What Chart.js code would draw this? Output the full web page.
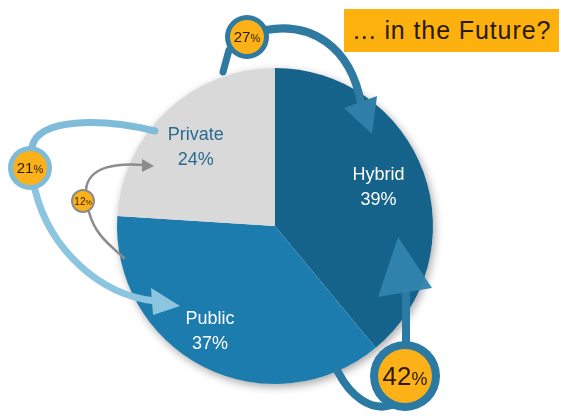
<!DOCTYPE html>
<html>
<head>
<meta charset="utf-8">
<script src="https://cdn.jsdelivr.net/npm/chart.js@4.4.0/dist/chart.umd.min.js"></script>
<style>
  body { margin: 0; background: #fff; }
  #wrap { position: relative; width: 561px; height: 416px; overflow: hidden; }
  #title {
    position: absolute; left: 344px; top: 9px; width: 215px; height: 43px;
    background: #fdb10f; color: #2a1a00;
    font: 25px "Liberation Sans", Arial, sans-serif; letter-spacing: 0.9px;
    line-height: 43px; padding-left: 9px; box-sizing: border-box; white-space: nowrap;
  }
</style>
</head>
<body>
<div id="wrap">
  <canvas id="pie" width="561" height="416"></canvas>
  <div id="title">... in the Future?</div>
</div>
<script>
// slices, clockwise from 12 o'clock
const labels = ["Hybrid", "Public", "Private"];
const shares = [39, 37, 24];
const sliceColors = ["#15638b", "#1c7cad", "#d9d9d9"];
const labelColors = ["#ffffff", "#ffffff", "#2b6b8d"];
const labelDist = [0.70, 0.78, 0.71]; // fraction of radius
const labelTurn = [-1, 4.8, -1.8];    // degrees off the slice middle

// the shift bubbles round the pie
const shiftValues = [27, 21, 12, 42];

const ORANGE = "#fbb117";

function bubble(ctx, x, y, r, ring, ringColor, value, size) {
  ctx.beginPath();
  ctx.arc(x, y, r, 0, Math.PI * 2);
  ctx.fillStyle = ringColor;
  ctx.fill();
  ctx.beginPath();
  ctx.arc(x, y, r - ring, 0, Math.PI * 2);
  ctx.fillStyle = ORANGE;
  ctx.fill();
  const num = String(value);
  ctx.font = size + "px 'Liberation Sans', Arial, sans-serif";
  const w1 = ctx.measureText(num).width;
  ctx.font = Math.round(size * 0.7) + "px 'Liberation Sans', Arial, sans-serif";
  const w2 = ctx.measureText("%").width;
  const x0 = x - (w1 + w2) / 2;
  ctx.fillStyle = "#2b1a00";
  ctx.textBaseline = "alphabetic";
  ctx.textAlign = "left";
  ctx.font = size + "px 'Liberation Sans', Arial, sans-serif";
  ctx.fillText(num, x0, y + size * 0.36);
  ctx.font = Math.round(size * 0.7) + "px 'Liberation Sans', Arial, sans-serif";
  ctx.fillText("%", x0 + w1, y + size * 0.36);
}

function tri(ctx, color, a, b, c) {
  ctx.beginPath();
  ctx.moveTo(a[0], a[1]);
  ctx.lineTo(b[0], b[1]);
  ctx.lineTo(c[0], c[1]);
  ctx.closePath();
  ctx.fillStyle = color;
  ctx.fill();
}

const pieShadow = {
  id: "pieShadow",
  beforeDatasetsDraw(chart) {
    const arc = chart.getDatasetMeta(0).data[0];
    const ctx = chart.ctx;
    ctx.save();
    ctx.shadowColor = "rgba(0,0,0,0.35)";
    ctx.shadowBlur = 8;
    ctx.shadowOffsetX = 2;
    ctx.shadowOffsetY = 3;
    ctx.beginPath();
    ctx.arc(arc.x, arc.y, arc.outerRadius, 0, Math.PI * 2);
    ctx.fillStyle = "#ffffff";
    ctx.fill();
    ctx.restore();
  }
};

const sliceLabels = {
  id: "sliceLabels",
  afterDatasetsDraw(chart) {
    const ctx = chart.ctx;
    const meta = chart.getDatasetMeta(0);
    ctx.save();
    ctx.font = "18px 'Liberation Sans', Arial, sans-serif";
    ctx.textAlign = "center";
    ctx.textBaseline = "middle";
    meta.data.forEach((arc, i) => {
      const mid = (arc.startAngle + arc.endAngle) / 2 + labelTurn[i] * Math.PI / 180;
      const d = arc.outerRadius * labelDist[i];
      const x = arc.x + Math.cos(mid) * d;
      const y = arc.y + Math.sin(mid) * d;
      ctx.fillStyle = labelColors[i];
      ctx.fillText(labels[i], x, y - 12);
      ctx.fillText(shares[i] + "%", x, y + 13);
    });
    ctx.restore();
  }
};

const arrows = {
  id: "arrows",
  afterDraw(chart) {
    const ctx = chart.ctx;
    const arc = chart.getDatasetMeta(0).data[0];
    ctx.save();
    ctx.translate(arc.x - 275, arc.y - 226);
    ctx.lineCap = "round";

    // 27% : private -> hybrid
    ctx.strokeStyle = "#2f7aa1";
    ctx.lineWidth = 7;
    ctx.beginPath();
    ctx.moveTo(229, 50);
    ctx.lineTo(223, 72);
    ctx.stroke();
    ctx.lineWidth = 8;
    ctx.beginPath();
    ctx.moveTo(266, 30);
    ctx.bezierCurveTo(310, 22, 350, 45, 361, 103);
    ctx.stroke();
    tri(ctx, "#2f7fa8", [344, 108], [377, 96], [372, 134]);
    bubble(ctx, 247, 37, 22, 5, "#2f7aa1", shiftValues[0], 15);

    // 21% : private -> public
    ctx.strokeStyle = "#7fbcd9";
    ctx.lineWidth = 7;
    ctx.beginPath();
    ctx.moveTo(32, 147);
    ctx.bezierCurveTo(38, 118, 100, 118, 155, 131);
    ctx.stroke();
    ctx.strokeStyle = "#8cc5e0";
    ctx.beginPath();
    ctx.moveTo(35, 190);
    ctx.bezierCurveTo(50, 250, 100, 295, 155, 301);
    ctx.stroke();
    tri(ctx, "#8cc5e0", [151, 288], [153, 315], [180, 306]);
    bubble(ctx, 30, 168, 22, 5, "#7fbcd9", shiftValues[1], 15);

    // 12% : public -> private
    ctx.strokeStyle = "#8c8c8c";
    ctx.lineWidth = 2.5;
    ctx.beginPath();
    ctx.moveTo(86, 190);
    ctx.bezierCurveTo(88, 165, 120, 163, 144, 165);
    ctx.stroke();
    tri(ctx, "#8c8c8c", [142, 159], [142, 172], [154, 166]);
    ctx.beginPath();
    ctx.moveTo(89, 212);
    ctx.bezierCurveTo(95, 235, 110, 245, 124, 258);
    ctx.stroke();
    bubble(ctx, 83, 201, 12, 2, "#8c8c8c", shiftValues[2], 10);

    // 42% : public -> hybrid
    ctx.strokeStyle = "#2b7aa4";
    ctx.lineWidth = 8;
    ctx.beginPath();
    ctx.moveTo(338, 372);
    ctx.bezierCurveTo(350, 395, 370, 412, 392, 405);
    ctx.stroke();
    ctx.beginPath();
    ctx.moveTo(406, 342);
    ctx.lineTo(406, 293);
    ctx.stroke();
    tri(ctx, "rgba(47,132,173,0.95)", [378, 297], [432, 288], [398, 237]);
    bubble(ctx, 405, 376, 35, 8, "#2b7aa4", shiftValues[3], 26);

    ctx.restore();
  }
};

new Chart(document.getElementById("pie"), {
  type: "pie",
  data: {
    labels: labels,
    datasets: [{
      data: shares,
      backgroundColor: sliceColors,
      borderWidth: 0
    }]
  },
  options: {
    responsive: false,
    animation: false,
    devicePixelRatio: 1,
    rotation: 0,
    layout: { padding: { left: 117, right: 128, top: 68, bottom: 32 } },
    plugins: {
      legend: { display: false },
      tooltip: { enabled: false }
    }
  },
  plugins: [pieShadow, sliceLabels, arrows]
});
</script>
</body>
</html>
